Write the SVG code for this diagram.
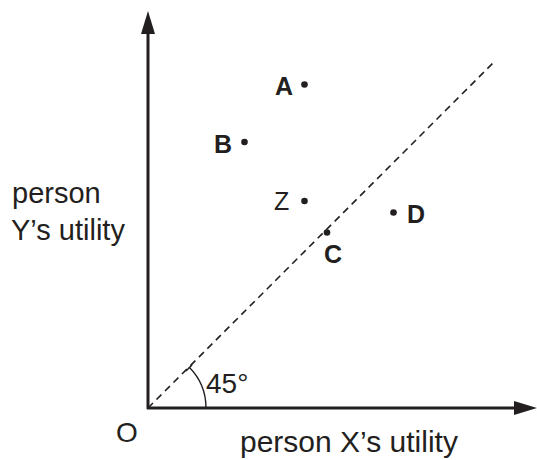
<svg xmlns="http://www.w3.org/2000/svg" width="537" height="460" viewBox="0 0 537 460">
<style>
.ax{stroke:#231f20;stroke-width:3;fill:none}
.ah{fill:#231f20}
.t{font-family:"Liberation Sans",Arial,sans-serif;font-size:29px;fill:#231f20}
.l{font-family:"Liberation Sans",Arial,sans-serif;font-size:25px;fill:#231f20}
.b{font-weight:bold}
.dot{fill:#231f20}
</style>
<rect width="537" height="460" fill="#fff"/>
<g id="connectors">
<line class="ax" x1="148" y1="409" x2="148" y2="30"/>
<polygon class="ah" points="148,11 141,34 155,34"/>
<line class="ax" x1="147" y1="408" x2="518" y2="408"/>
<polygon class="ah" points="537,408 514,401 514,415"/>
<line x1="148" y1="408" x2="494" y2="62" stroke="#231f20" stroke-width="1.6" stroke-dasharray="7,5"/>
<path d="M206,408 A58,58 0 0 0 189,367" fill="none" stroke="#231f20" stroke-width="1.4"/>
<line x1="186" y1="371" x2="192" y2="365" stroke="#231f20" stroke-width="1.4"/>
</g>
<g id="O"><text class="t" x="116" y="442" style="font-size:28px">O</text></g>
<g id="xlabel"><text class="t" x="240" y="452" style="font-size:30px">person X’s utility</text></g>
<g id="ylabel"><text class="t" x="12" y="203">person</text><text class="t" x="11" y="240">Y’s utility</text></g>
<g id="angle"><text class="t" x="206" y="393" style="font-size:28px">45°</text></g>
<g id="A"><circle class="dot" cx="304.5" cy="84.5" r="3.3"/><text class="l b" x="275" y="95">A</text></g>
<g id="B"><circle class="dot" cx="244.5" cy="142" r="3.3"/><text class="l b" x="214" y="153">B</text></g>
<g id="Z"><circle class="dot" cx="304.5" cy="201" r="3.3"/><text class="l" x="274" y="210">Z</text></g>
<g id="C"><circle class="dot" cx="327" cy="232.5" r="3.3"/><text class="l b" x="324" y="263">C</text></g>
<g id="D"><circle class="dot" cx="393.5" cy="212.5" r="3.3"/><text class="l b" x="407" y="223">D</text></g>
</svg>
